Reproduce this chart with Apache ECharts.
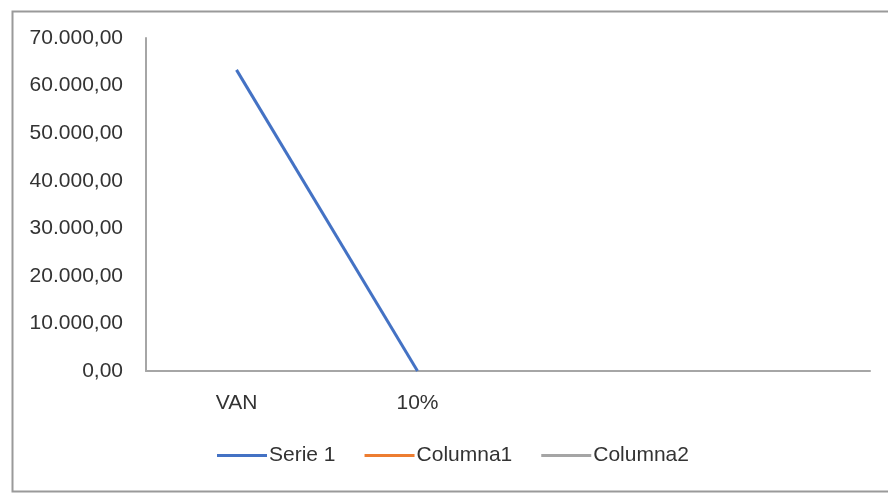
<!DOCTYPE html>
<html>
<head>
<meta charset="utf-8">
<script src="https://cdn.jsdelivr.net/npm/echarts@6/dist/echarts.min.js"></script>
<style>html,body{margin:0;padding:0;background:#fff}#c{width:888px;height:493px}</style>
</head>
<body>
<div id="c"></div>
<script>
var categories = ['VAN', '10%', '', ''];
var serie1 = [63300, 0, null, null];
var columna1 = [null, null, null, null];
var columna2 = [null, null, null, null];
var seriesNames = ['Serie 1', 'Columna1', 'Columna2'];

function fmt(v) {
  var s = Math.round(v).toString().replace(/\B(?=(\d{3})+(?!\d))/g, '.');
  return s + ',00';
}

var chart = echarts.init(document.getElementById('c'));
var txt = '#333333';
var font = 'Liberation Sans';
chart.setOption({
  animation: false,
  backgroundColor: '#fff',
  graphic: [{
    type: 'rect', left: 10, top: 9,
    shape: { width: 900, height: 480 },
    style: { fill: 'none', stroke: '#9a9a9a', lineWidth: 2 },
    z: -1
  }],
  grid: { left: 146, right: 18, top: 38, bottom: 122 },
  legend: {
    bottom: 22, left: 212,
    itemWidth: 50, itemHeight: 3, itemGap: 29,
    textStyle: { color: txt, fontSize: 21, fontFamily: font, padding: [0, 0, 0, -3] },
    data: seriesNames.map(function (n) { return { name: n, icon: 'rect' }; })
  },
  xAxis: {
    type: 'category', data: categories, boundaryGap: true,
    axisLine: { lineStyle: { color: '#a6a6a6', width: 2 } },
    axisTick: { show: false },
    axisLabel: { color: txt, fontSize: 21, fontFamily: font, margin: 22 }
  },
  yAxis: {
    type: 'value', min: 0, max: 70000, interval: 10000,
    axisLine: { show: true, lineStyle: { color: '#a6a6a6', width: 2 } },
    axisTick: { show: false },
    splitLine: { show: false },
    axisLabel: { color: txt, fontSize: 21, fontFamily: font, margin: 23, formatter: fmt }
  },
  series: [
    { name: seriesNames[0], type: 'line', data: serie1, symbol: 'none', color: '#4472C4', lineStyle: { width: 3 } },
    { name: seriesNames[1], type: 'line', data: columna1, symbol: 'none', color: '#ED7D31', lineStyle: { width: 3 } },
    { name: seriesNames[2], type: 'line', data: columna2, symbol: 'none', color: '#A5A5A5', lineStyle: { width: 3 } }
  ]
});
</script>
</body>
</html>
